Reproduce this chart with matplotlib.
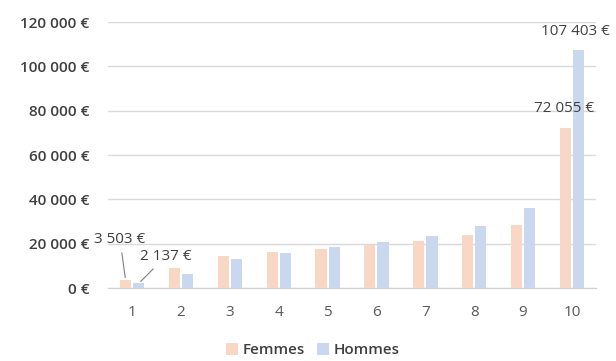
import matplotlib.pyplot as plt
import numpy as np

plt.rcParams['font.family'] = ['Open Sans', 'DejaVu Sans']

deciles = ['1', '2', '3', '4', '5', '6', '7', '8', '9', '10']
femmes = [3503, 8900, 14600, 16400, 17750, 19550, 21050, 23900, 28600, 72055]
hommes = [2137, 6450, 13100, 15950, 18650, 20900, 23600, 28100, 36100, 107403]
yticks = [0, 20000, 40000, 60000, 80000, 100000, 120000]

def euro(v):
    return f"{v:,.0f} €".replace(",", " ")

fig = plt.figure(figsize=(6.16, 3.61), dpi=100)
ax = fig.add_axes([0.175, 0.202, 0.793, 0.737])

x = np.arange(1, len(deciles) + 1)
w = 0.23
ax.bar(x - 0.135, femmes, w, color='#F8D7C4', label='Femmes', zorder=3)
ax.bar(x + 0.135, hommes, w, color='#C9D8EE', label='Hommes', zorder=3)

ax.set_xlim(0.5, 10.5)
ax.set_ylim(0, 120000)
ax.set_yticks(yticks)
ax.set_yticklabels([euro(v) for v in yticks], fontsize=11, fontweight='semibold', color='#404040')
ax.set_xticks(x)
ax.set_xticklabels(deciles, fontsize=11, color='#595959')
ax.tick_params(length=0)
ax.tick_params(axis='y', pad=13)
ax.tick_params(axis='x', pad=12)
ax.grid(axis='y', color='#D9D9D9', linewidth=1, zorder=0)
for s in ['top', 'right', 'left']:
    ax.spines[s].set_visible(False)
ax.spines['bottom'].set_color('#D0D0D0')

# labels on first and last decile
ax.annotate(euro(femmes[0]), xy=(1 - 0.135, femmes[0]), xytext=(0.75, 21800),
            fontsize=11, color='#404040', ha='center', va='center',
            arrowprops=dict(arrowstyle='-', color='#808080', lw=0.8))
ax.annotate(euro(hommes[0]), xy=(1 + 0.135, hommes[0]), xytext=(1.68, 14200),
            fontsize=11, color='#404040', ha='center', va='center',
            arrowprops=dict(arrowstyle='-', color='#808080', lw=0.8))
ax.text(9.84, 81000, euro(femmes[9]), fontsize=11, color='#404040', ha='center', va='center')
ax.text(10.08, 115500, euro(hommes[9]), fontsize=11, color='#404040', ha='center', va='center',
        clip_on=False)

fig.legend(loc='center', bbox_to_anchor=(0.508, 0.03), ncol=2, frameon=False,
           handlelength=0.8, handleheight=0.8, handletextpad=0.3, columnspacing=0.8,
           prop={'size': 11, 'weight': 'semibold'}, labelcolor='#404040')

fig.savefig('out.png', dpi=100)
